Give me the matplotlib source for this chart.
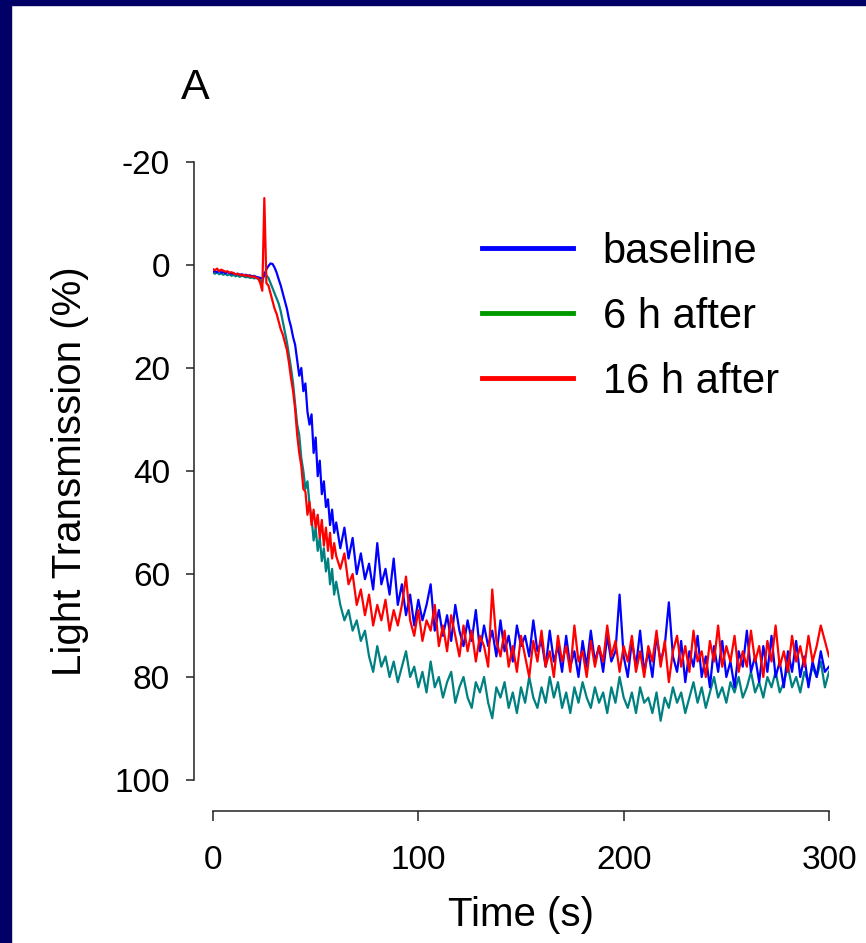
import matplotlib
matplotlib.use('Agg')
import matplotlib.pyplot as plt
from matplotlib.lines import Line2D
from matplotlib.patches import Rectangle
import numpy as np

plt.rcParams['font.family'] = ['Liberation Sans', 'DejaVu Sans']
plt.rcParams['axes.unicode_minus'] = False

# time grid (s): 1 s steps up to 60 s, 2 s steps afterwards
time = np.concatenate([np.arange(0, 61), np.arange(62, 301, 2)])

# light transmission (%)
baseline = [
    1.3, 1.2, 1.4, 1.1, 1.5, 1.3, 1.6, 1.4, 1.5, 1.7,
    1.6, 1.8, 1.7, 1.9, 1.8, 2.0, 1.9, 2.1, 2.0, 2.2,
    2.1, 2.3, 2.4, 2.5, 2.6, 2.0, 0.8, 0.2, -0.3, -0.2,
    0.5, 1.5, 2.8, 4.0, 5.5, 7.0, 8.5, 10.5, 12.0, 14.0,
    15.5, 18.5, 21.5, 20.0, 24.5, 23.0, 28.5, 31.0, 29.0, 36.5,
    33.5, 41.0, 38.0, 44.5, 42.0, 47.0, 45.5, 50.5, 47.5, 52.0, 50.0,
    55, 51, 57, 53, 60, 56, 61, 58, 63, 54,
    62, 59, 64, 57, 66, 62, 68, 64, 70, 65,
    69, 66, 62, 71, 67, 72, 68, 73, 66, 71,
    74, 69, 73, 67, 75, 70, 74, 71, 76, 69,
    75, 72, 77, 70, 74, 72, 76, 69, 75, 73,
    78, 71, 77, 74, 79, 72, 78, 75, 80, 73,
    78, 71, 77, 74, 79, 72, 77, 75, 64, 76,
    80, 73, 78, 71, 79, 75, 80, 72, 77, 74,
    65.5, 76, 79, 73, 81, 75, 78, 72, 80, 76,
    82, 74, 79, 73, 80, 77, 82, 75, 78, 71,
    79, 76, 81, 74, 79, 72, 80, 77, 82, 75,
    79, 73, 80, 76, 82, 77, 80, 75, 79, 78,
]

after_6h = [
    1.5, 1.7, 1.4, 1.8, 1.6, 1.9, 1.7, 2.0, 1.8, 2.1,
    1.9, 2.2, 2.0, 2.3, 2.1, 2.2, 2.4, 2.3, 2.5, 2.4,
    2.6, 2.5, 2.7, 2.9, 3.5, 1.5, 2.0, 2.5, 3.5, 4.5,
    5.5, 6.5, 7.5, 9.0, 11.0, 13.0, 15.0, 17.5, 20.0, 23.0,
    27.0, 31.0, 33.0, 37.5, 40.0, 43.5, 42.0, 46.5, 49.0, 53.5,
    51.0, 55.5, 53.0, 57.5, 55.0, 59.5, 57.0, 62.0, 59.0, 64.0, 61.5,
    66, 69, 67, 71, 69, 73, 71, 76, 79, 74,
    78, 76, 80, 77, 81, 78, 75, 80, 78, 82,
    79, 83, 77, 82, 80, 84, 81, 79, 85, 82,
    80, 84, 86, 81, 83, 80, 85, 88, 82, 84,
    81, 86, 83, 87, 82, 85, 80, 84, 86, 82,
    85, 80, 84, 81, 86, 83, 87, 82, 85, 81,
    84, 86, 82, 85, 83, 87, 82, 85, 80, 84,
    86, 83, 87, 82, 85, 84, 87, 83, 88.5, 84,
    86, 82, 85, 83, 87, 84, 81, 85, 82, 86,
    83, 80, 84, 82, 85, 81, 83, 80, 84, 82,
    79, 83, 81, 84, 80, 82, 79, 83, 81, 78,
    82, 80, 83, 79, 81, 78, 80, 77, 82, 79,
]

after_16h = [
    0.8, 1.0, 0.7, 1.2, 0.9, 1.1, 1.3, 1.2, 1.5, 1.4,
    1.6, 1.8, 1.7, 1.9, 2.0, 1.9, 2.1, 2.0, 2.2, 2.3,
    2.2, 2.5, 2.6, 3.5, 5.0, -13.0, 3.5, 4.0, 5.5, 7.0,
    8.5, 9.5, 11.0, 12.5, 13.5, 15.0, 16.5, 19.0, 22.0, 24.5,
    28.0, 33.0, 36.5, 39.0, 43.5, 44.0, 48.5, 46.0, 50.5, 47.5,
    51.0, 48.5, 53.0, 49.5, 54.5, 51.0, 55.5, 52.0, 57.0, 54.0, 56.5,
    59, 56, 62, 60, 66, 63, 68, 64, 70, 66,
    69, 65, 71, 67, 70, 66, 60.5, 69, 72, 67,
    73, 69, 71, 66, 74, 70, 75, 68, 72, 76,
    70, 75, 71, 77, 72, 74, 78, 63, 73, 76,
    71, 78, 74, 79, 72, 76, 80, 73, 77, 71,
    78, 75, 80, 72, 77, 74, 79, 70, 77, 75,
    80, 73, 78, 74, 77, 70, 76, 73, 79, 74,
    77, 72, 79, 75, 80, 74, 77, 71, 78, 73,
    81, 75, 72, 78, 74, 79, 71, 77, 75, 80,
    73, 77, 70, 78, 74, 77, 72, 79, 75, 78,
    71, 77, 74, 80, 73, 77, 70, 78, 75, 79,
    72, 77, 74, 78, 72, 77, 74, 70, 73, 76,
]

labels = ['baseline', '6 h after', '16 h after']
x_ticks = [0, 100, 200, 300]
y_ticks = [-20, 0, 20, 40, 60, 80, 100]


def main():
    fig = plt.figure(figsize=(8.66, 9.43), dpi=100, facecolor='white')
    px = 72 / 100  # one pixel in points

    # navy slide border (left and top)
    fig.patches.append(Rectangle((0, 0), 11 / 866, 1, transform=fig.transFigure,
                                 color='#000066', zorder=0))
    fig.patches.append(Rectangle((0, 1 - 5 / 943), 1, 5 / 943, transform=fig.transFigure,
                                 color='#000066', zorder=0))

    ax = fig.add_axes([213 / 866, 1 - 780 / 943, 616 / 866, 618 / 943])
    ax.plot(time, after_6h, color='#008080', lw=1.6)
    ax.plot(time, baseline, color='#0000ff', lw=1.6)
    ax.plot(time, after_16h, color='#ff0000', lw=1.6)

    ax.set_xlim(0, 300)
    ax.set_ylim(100, -20)
    ax.set_xticks(x_ticks)
    ax.set_yticks(y_ticks)

    for s in ['top', 'right']:
        ax.spines[s].set_visible(False)
    ax.spines['left'].set_position(('outward', 19 * px))
    ax.spines['bottom'].set_position(('outward', 31 * px))
    ax.spines['left'].set_bounds(-20, 100)
    ax.spines['bottom'].set_bounds(0, 300)
    for s in ['left', 'bottom']:
        ax.spines[s].set_linewidth(1.1)
        ax.spines[s].set_color('#222222')

    ax.tick_params(axis='y', length=8 * px, width=1.1, pad=16 * px, labelsize=24, color='#222222')
    ax.tick_params(axis='x', length=10 * px, width=1.1, pad=24 * px, labelsize=24, color='#222222')

    ax.set_xlabel('Time (s)', fontsize=29)
    ax.set_ylabel('Light Transmission (%)', fontsize=29)
    ax.xaxis.label.set_va('center')
    ax.yaxis.label.set_va('center')
    ax.xaxis.set_label_coords(0.5, (780 - 915) / 618)
    ax.yaxis.set_label_coords((70 - 213) / 616, 0.5)

    fig.text(195 / 866, 1 - 88 / 943, 'A', fontsize=31, ha='center', va='center')

    handles = [Line2D([], [], color=c, lw=3.5) for c in ['#0000ff', '#009a00', '#ff0000']]
    ax.legend(handles, labels, loc='upper left', bbox_to_anchor=(482 / 866, 1 - 232 / 943),
              bbox_transform=fig.transFigure, frameon=False, fontsize=30,
              handlelength=2.18, handletextpad=0.72, labelspacing=0.6,
              borderpad=0, borderaxespad=0)

    fig.savefig('out.png', dpi=100, facecolor='white')


if __name__ == '__main__':
    main()
